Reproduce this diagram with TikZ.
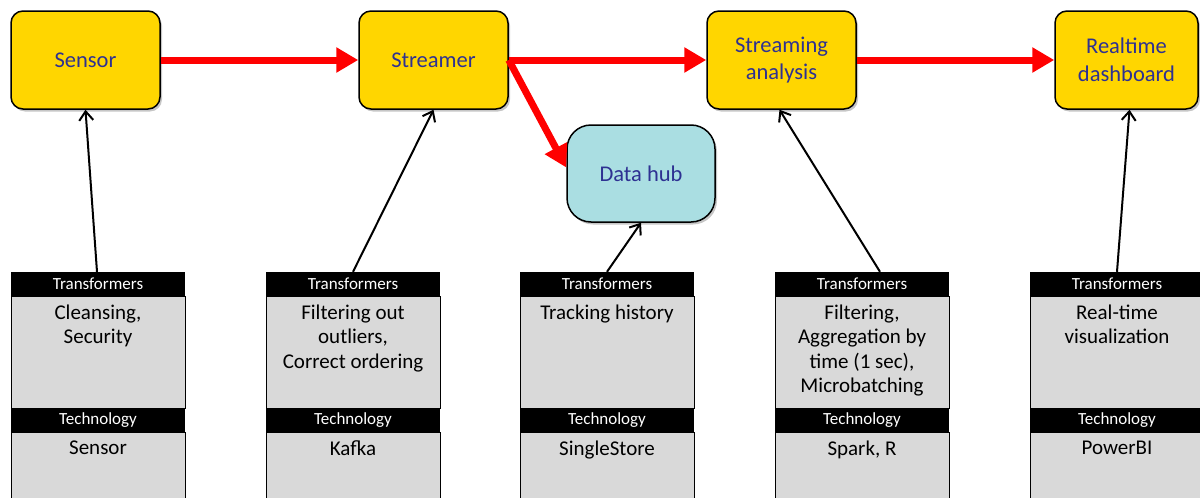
\documentclass[tikz,border=0pt]{standalone}
\usepackage{fontspec}
\setmainfont{Carlito}
\usetikzlibrary{arrows.meta,shadows,calc}
\definecolor{boxyellow}{RGB}{255,214,0}
\definecolor{hubcyan}{RGB}{170,222,226}
\definecolor{colgray}{RGB}{217,217,217}
\definecolor{labelblue}{RGB}{46,49,146}
\tikzset{
  ybox/.style={draw=black, line width=1.5pt, fill=boxyellow, rounded corners=12pt,
    minimum width=149pt, minimum height=98pt, text=labelblue, align=center,
    font=\fontsize{22.5}{27.5}\selectfont, inner sep=0pt,
    drop shadow={shadow xshift=2pt, shadow yshift=-2.5pt, opacity=0.45}},
  hubbox/.style={ybox, fill=hubcyan, rounded corners=24pt, minimum width=148pt, minimum height=97pt},
  hdr/.style={fill=black, text=white, minimum width=174pt, minimum height=24pt, inner sep=0pt,
    font=\fontsize{17}{20}\selectfont},
  body/.style={fill=colgray, draw=black, line width=0.8pt, minimum width=174pt, inner sep=0pt},
  btxt/.style={align=center, font=\fontsize{21}{24.5}\selectfont, inner sep=0pt, anchor=north},
  redarr/.style={draw=red, line width=7pt, -{Triangle[length=22pt,width=24pt]}},
  blkarr/.style={draw=black, line width=2pt, -{Straight Barb[length=9pt,width=14pt,line width=2pt]}},
}
\begin{document}
\begin{tikzpicture}[x=1pt,y=-1pt]
\useasboundingbox (0,0) rectangle (1200,498);
\clip (0,0) rectangle (1200,498);
% top boxes
\node[ybox] (sensor) at (85.5,60) {Sensor};
\node[ybox] (streamer) at (433.5,60) {Streamer};
\node[ybox] (sa) at (781.5,60) {Streaming\\analysis};
\node[ybox, minimum width=143pt] (rd) at (1126.5,60) {Realtime\\dashboard};
\node[hubbox] (hub) at (641,173.5) {Data hub};
% columns
\foreach \i/\x in {1/98,2/353,3/607,4/862,5/1117}{
  \node[body, minimum height=112pt] (b\i) at (\x,352) {};
  \node[body, minimum height=80pt, anchor=north] (c\i) at (\x,432) {};
  \node[hdr] (th\i) at (\x,284) {Transformers};
  \node[hdr] (tc\i) at (\x,420) {Technology};
}
\node[btxt] (t1) at (98,304.5) {Cleansing,\\Security};
\node[btxt] (t2) at (353,304.5) {Filtering out\\outliers,\\Correct ordering};
\node[btxt] (t3) at (607,304.5) {Tracking history};
\node[btxt] (t4) at (862,304.5) {Filtering,\\Aggregation by\\time (1 sec),\\Microbatching};
\node[btxt] (t5) at (1117,304.5) {Real-time\\visualization};
\node[btxt] (k1) at (98,440.5) {Sensor};
\node[btxt] (k2) at (353,440.5) {Kafka};
\node[btxt] (k3) at (607,440.5) {SingleStore};
\node[btxt] (k4) at (862,440.5) {Spark, R};
\node[btxt] (k5) at (1117,440.5) {PowerBI};
% red arrows
\draw[redarr] (sensor.east) -- (streamer.west);
\draw[redarr] (streamer.east) -- (sa.west);
\draw[redarr] (sa.east) -- (rd.west);
\draw[redarr] (streamer.east) -- ($(hub.west)+(0,-6)$);
% black arrows
\draw[blkarr] ($(th1.north)+(-1,0)$) -- (sensor.south);
\draw[blkarr] (th2.north) -- (streamer.south);
\draw[blkarr] (th3.north) -- (hub.south);
\draw[blkarr] ($(th4.north)+(18,0)$) -- ($(sa.south)+(-2,0)$);
\draw[blkarr] (th5.north) -- ($(rd.south)+(3,0)$);
\end{tikzpicture}
\end{document}
